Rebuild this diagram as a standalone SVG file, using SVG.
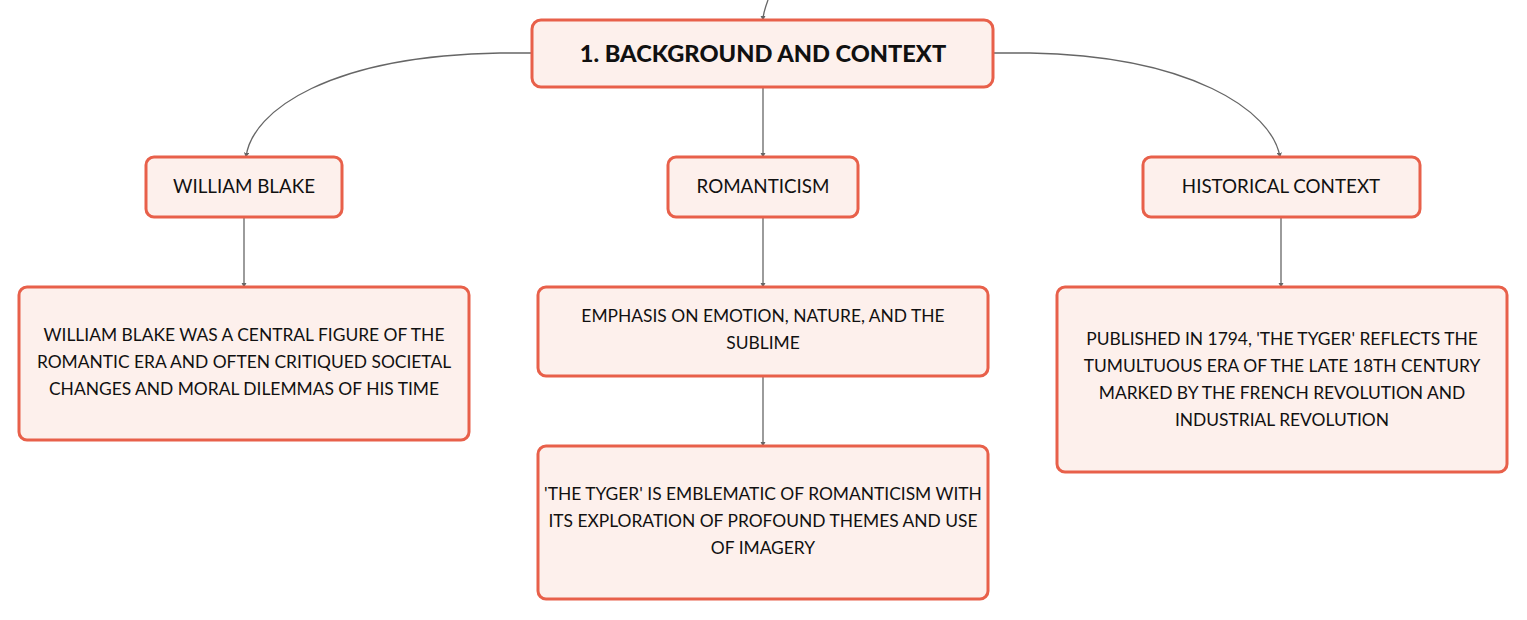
<svg xmlns="http://www.w3.org/2000/svg" width="1527" height="620" viewBox="0 0 1527 620">
<defs>
<marker id="arr" viewBox="0 0 6 6" refX="5" refY="3" markerWidth="4" markerHeight="4" orient="auto">
<path d="M0,0 L6,3 L0,6 z" fill="#666"/>
</marker>
</defs>
<style>
.box{fill:#fdf0ec;stroke:#e8604a;stroke-width:3}
.t{font-family:Lato,"Open Sans",sans-serif;fill:#111;text-anchor:middle}
.title{font-size:23.6px;font-weight:900}
.lbl{font-size:18.8px}
.desc{font-size:17.4px}
.c{fill:none;stroke:#666;stroke-width:1.3}
</style>
<rect width="1527" height="620" fill="#fff"/>
<g id="connectors">
<path class="c" d="M768,0 C765,8 763,14 763,20" marker-end="url(#arr)"/>
<path class="c" d="M532,53 L500,53 C330,56 252,110 246,157" marker-end="url(#arr)"/>
<path class="c" d="M993,53 L1030,53 C1190,56 1272,110 1280,157" marker-end="url(#arr)"/>
<path class="c" d="M763,87 L763,157" marker-end="url(#arr)"/>
<path class="c" d="M244,217 L244,287" marker-end="url(#arr)"/>
<path class="c" d="M763,217 L763,287" marker-end="url(#arr)"/>
<path class="c" d="M1281,217 L1281,287" marker-end="url(#arr)"/>
<path class="c" d="M763,376 L763,446" marker-end="url(#arr)"/>
</g>
<g id="root">
<rect class="box" x="532" y="20" width="461" height="67" rx="9"/>
<text class="t title" x="763" y="62">1. BACKGROUND AND CONTEXT</text>
</g>
<g id="william-blake">
<rect class="box" x="146" y="157" width="196" height="60" rx="8"/>
<text class="t lbl" x="244" y="193">WILLIAM BLAKE</text>
</g>
<g id="romanticism">
<rect class="box" x="668" y="157" width="190" height="60" rx="8"/>
<text class="t lbl" x="763" y="193">ROMANTICISM</text>
</g>
<g id="historical-context">
<rect class="box" x="1143" y="157" width="277" height="60" rx="8"/>
<text class="t lbl" x="1281" y="193">HISTORICAL CONTEXT</text>
</g>
<g id="blake-desc">
<rect class="box" x="19" y="287" width="450" height="153" rx="8"/>
<text class="t desc" x="244" y="341">WILLIAM BLAKE WAS A CENTRAL FIGURE OF THE</text>
<text class="t desc" x="244" y="368">ROMANTIC ERA AND OFTEN CRITIQUED SOCIETAL</text>
<text class="t desc" x="244" y="395">CHANGES AND MORAL DILEMMAS OF HIS TIME</text>
</g>
<g id="emphasis">
<rect class="box" x="538" y="287" width="450" height="89" rx="8"/>
<text class="t desc" x="763" y="322">EMPHASIS ON EMOTION, NATURE, AND THE</text>
<text class="t desc" x="763" y="349">SUBLIME</text>
</g>
<g id="tyger">
<rect class="box" x="538" y="446" width="450" height="153" rx="8"/>
<text class="t desc" x="763" y="500">'THE TYGER' IS EMBLEMATIC OF ROMANTICISM WITH</text>
<text class="t desc" x="763" y="527">ITS EXPLORATION OF PROFOUND THEMES AND USE</text>
<text class="t desc" x="763" y="554">OF IMAGERY</text>
</g>
<g id="published">
<rect class="box" x="1057" y="287" width="450" height="185" rx="8"/>
<text class="t desc" x="1282" y="345">PUBLISHED IN 1794, 'THE TYGER' REFLECTS THE</text>
<text class="t desc" x="1282" y="372">TUMULTUOUS ERA OF THE LATE 18TH CENTURY</text>
<text class="t desc" x="1282" y="399">MARKED BY THE FRENCH REVOLUTION AND</text>
<text class="t desc" x="1282" y="426">INDUSTRIAL REVOLUTION</text>
</g>
</svg>
